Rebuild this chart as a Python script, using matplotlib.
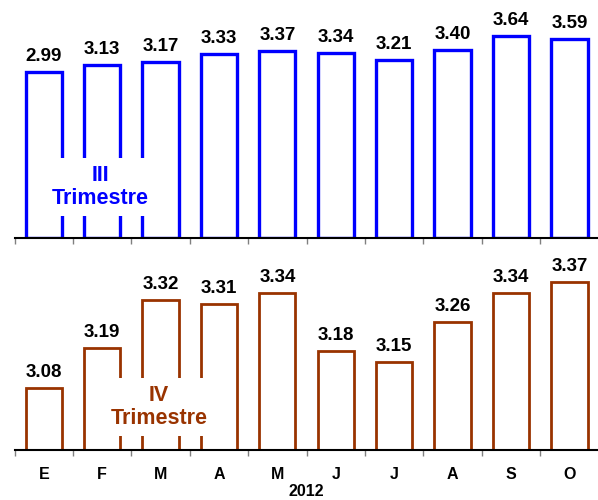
import matplotlib
matplotlib.use("Agg")
import matplotlib.pyplot as plt
import numpy as np

months = ["E", "F", "M", "A", "M", "J", "J", "A", "S", "O"]
tercer_trim = [2.99, 3.13, 3.17, 3.33, 3.37, 3.34, 3.21, 3.40, 3.64, 3.59]
cuarto_trim = [3.08, 3.19, 3.32, 3.31, 3.34, 3.18, 3.15, 3.26, 3.34, 3.37]
year_label = "2012"

BLUE = "#0000FF"
BROWN = "#993300"

plt.rcParams["font.family"] = ["Liberation Sans", "DejaVu Sans"]

fig = plt.figure(figsize=(5.98, 5.0), dpi=100)
ax_top = fig.add_axes([0.0244, 0.524, 0.9766, 0.466])
ax_bot = fig.add_axes([0.0244, 0.100, 0.9766, 0.376])

x = np.arange(len(months))


def draw_panel(ax, values, color, lw, bottom, top, label, label_xy, show_labels):
    ax.bar(x, np.array(values) - bottom, bottom=bottom, width=0.62,
           facecolor="white", edgecolor=color, linewidth=lw, zorder=2)
    for xi, v in zip(x, values):
        ax.annotate(f"{v:.2f}", (xi, v), xytext=(0, 5), textcoords="offset points",
                    ha="center", va="bottom", fontsize=13.5, fontweight="bold",
                    color="black")
    ax.set_xlim(-0.5, len(months) - 0.5)
    ax.set_ylim(bottom, top)
    for s in ["left", "right", "top"]:
        ax.spines[s].set_visible(False)
    ax.spines["bottom"].set_linewidth(1.5)
    ax.spines["bottom"].set_zorder(3)
    ax.set_yticks([])
    ax.set_xticks(x - 0.5, minor=True)
    ax.tick_params(axis="x", which="minor", length=4, width=1, color="#808080")
    ax.set_xticks(x)
    if show_labels:
        ax.set_xticklabels(months, fontsize=11.5, fontweight="bold")
    else:
        ax.set_xticklabels([])
    ax.tick_params(axis="x", which="major", length=0, pad=12)
    ax.text(label_xy[0], label_xy[1], label, ha="center", va="center",
            fontsize=15.5, fontweight="bold", color=color, zorder=4,
            linespacing=1.15,
            bbox=dict(facecolor="white", edgecolor="none", boxstyle="square,pad=0.3"))


draw_panel(ax_top, tercer_trim, BLUE, 2.4, 0.0, 4.206, "III\nTrimestre", (0.97, 0.92), False)
draw_panel(ax_bot, cuarto_trim, BROWN, 2.0, 2.91, 3.425, "IV\nTrimestre", (1.97, 3.028), True)
ax_bot.set_xlabel(year_label, fontsize=11.5, fontweight="bold", labelpad=2)

fig.savefig("out.png", dpi=100)
